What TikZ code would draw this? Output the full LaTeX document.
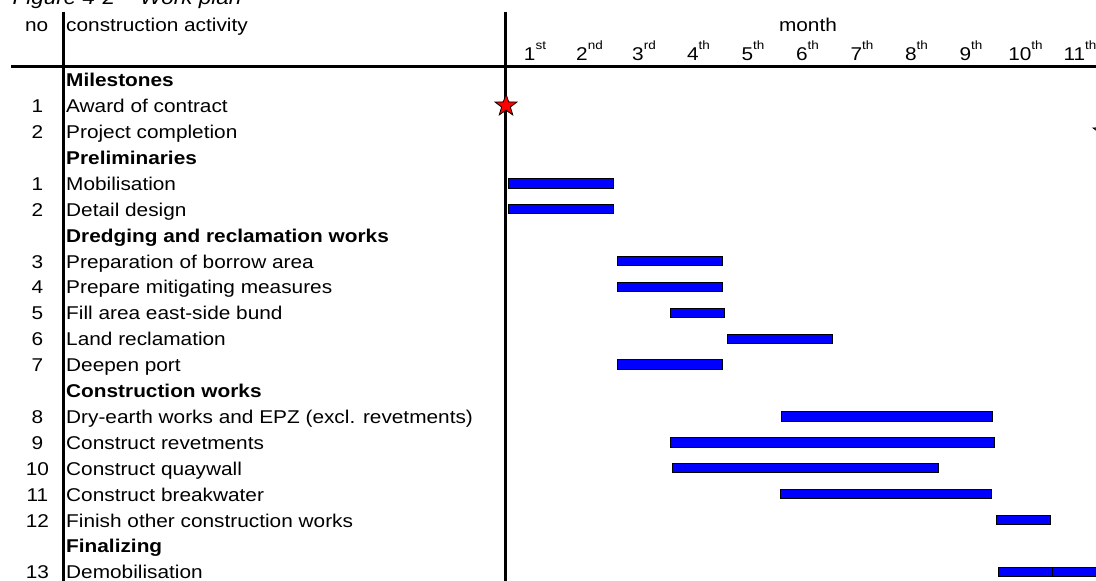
\documentclass[tikz,border=0pt]{standalone}
\usepackage{fontspec}
\setmainfont{Liberation Sans}[FakeStretch=1.125]
\usetikzlibrary{shapes.geometric}
\pgfdeclarelayer{bg}
\pgfsetlayers{bg,main}
\tikzset{
    every node/.style={inner sep=0mm, font=\fontsize{18.5}{22}\selectfont},
    nr/.style={anchor=base},
    act/.style={anchor=base west},
    grp/.style={anchor=base west, font=\fontsize{18.5}{22}\selectfont\bfseries},
    mon/.style={anchor=base},
    bar/.style={draw=black, fill=blue, line width=1pt},
    rule/.style={line width=2.7pt},
    mstone/.style={star, star points=5, star point ratio=2.5, draw=black, fill=red, minimum size=23pt, line width=0.8pt}
}
\newcommand{\ordsup}[2]{#1\raisebox{11pt}{\fontsize{12}{12}\selectfont #2}}

\begin{document}
\begin{tikzpicture}[x=1pt, y=-1pt]
        \useasboundingbox (0,0) rectangle (1096,581);
        \clip (0,0) rectangle (1096,581);
        \node (title) [anchor=base west, font=\fontsize{20}{24}\selectfont\itshape] at (12.5, 4) {Figure 4-2 -- Work plan};
        % header
        \node (hno) [nr] at (36.7, 31.7) {no};
        \node (hact) [act] at (66, 31.7) {construction activity};
        \node (hmonth) [mon] at (808, 31.7) {month};
        \node (m1) [mon] at (535, 60) {\ordsup{1}{st}};
        \node (m2) [mon] at (589.5, 60) {\ordsup{2}{nd}};
        \node (m3) [mon] at (644, 60) {\ordsup{3}{rd}};
        \node (m4) [mon] at (698.5, 60) {\ordsup{4}{th}};
        \node (m5) [mon] at (753, 60) {\ordsup{5}{th}};
        \node (m6) [mon] at (807.5, 60) {\ordsup{6}{th}};
        \node (m7) [mon] at (862, 60) {\ordsup{7}{th}};
        \node (m8) [mon] at (916.5, 60) {\ordsup{8}{th}};
        \node (m9) [mon] at (971, 60) {\ordsup{9}{th}};
        \node (m10) [mon] at (1025.5, 60) {\ordsup{10}{th}};
        \node (m11) [mon] at (1080, 60) {\ordsup{11}{th}};
        % activities
        \node (g0) [grp] at (66, 86.7) {Milestones};
        \node (n1) [nr] at (37.5, 112.6) {1};
        \node (a1) [act] at (66, 112.6) {Award of contract};
        \node (n2) [nr] at (37.5, 138.5) {2};
        \node (a2) [act] at (66, 138.5) {Project completion};
        \node (g1) [grp] at (66, 164.4) {Preliminaries};
        \node (n3) [nr] at (37.5, 190.3) {1};
        \node (a3) [act] at (66, 190.3) {Mobilisation};
        \node (n4) [nr] at (37.5, 216.2) {2};
        \node (a4) [act] at (66, 216.2) {Detail design};
        \node (g2) [grp] at (66, 242.1) {Dredging and reclamation works};
        \node (n5) [nr] at (37.5, 268.0) {3};
        \node (a5) [act] at (66, 268.0) {Preparation of borrow area};
        \node (n6) [nr] at (37.5, 293.9) {4};
        \node (a6) [act] at (66, 293.9) {Prepare mitigating measures};
        \node (n7) [nr] at (37.5, 319.8) {5};
        \node (a7) [act] at (66, 319.8) {Fill area east-side bund};
        \node (n8) [nr] at (37.5, 345.7) {6};
        \node (a8) [act] at (66, 345.7) {Land reclamation};
        \node (n9) [nr] at (37.5, 371.6) {7};
        \node (a9) [act] at (66, 371.6) {Deepen port};
        \node (g3) [grp] at (66, 397.5) {Construction works};
        \node (n10) [nr] at (37.5, 423.4) {8};
        \node (a10) [act] at (66, 423.4) {Dry-earth works and EPZ (excl. revetments)};
        \node (n11) [nr] at (37.5, 449.3) {9};
        \node (a11) [act] at (66, 449.3) {Construct revetments};
        \node (n12) [nr] at (37.5, 475.2) {10};
        \node (a12) [act] at (66, 475.2) {Construct quaywall};
        \node (n13) [nr] at (37.5, 501.1) {11};
        \node (a13) [act] at (66, 501.1) {Construct breakwater};
        \node (n14) [nr] at (37.5, 527.0) {12};
        \node (a14) [act] at (66, 527.0) {Finish other construction works};
        \node (g4) [grp] at (66, 552.9) {Finalizing};
        \node (n15) [nr] at (37.5, 578.8) {13};
        \node (a15) [act] at (66, 578.8) {Demobilisation};
        % milestones
        \node (s1) [mstone] at (506, 105.6) {};
        \node (s2) [mstone] at (1104, 131.5) {};
        % bars
        \draw[bar] (508.3, 178.6) rectangle (613.3, 188.0);
        \draw[bar] (508.3, 204.5) rectangle (613.3, 213.9);
        \draw[bar] (617.7, 256.3) rectangle (722.7, 265.7);
        \draw[bar] (617.7, 282.2) rectangle (722.7, 291.6);
        \draw[bar] (670.7, 308.1) rectangle (724.7, 317.5);
        \draw[bar] (727.0, 334.0) rectangle (832.0, 343.4);
        \draw[bar] (617.7, 359.9) rectangle (722.7, 369.3);
        \draw[bar] (781.7, 411.7) rectangle (992.7, 421.1);
        \draw[bar] (670.7, 437.6) rectangle (994.3, 447.0);
        \draw[bar] (672.3, 463.5) rectangle (938.0, 472.9);
        \draw[bar] (780.0, 489.4) rectangle (991.3, 498.8);
        \draw[bar] (996.7, 515.3) rectangle (1050.3, 524.7);
        \draw[bar] (998.7, 567.1) rectangle (1052.0, 576.5);
        \draw[bar] (1052.7, 567.1) rectangle (1110.0, 576.5);
        % table rules
        \coordinate (hl) at (11, 66.7);
        \coordinate (hr) at (1096, 66.7);
        \coordinate (t1) at (63.3, 11.7);
        \coordinate (b1) at (63.3, 581);
        \coordinate (t2) at (505.7, 11.7);
        \coordinate (b2) at (505.7, 581);
        \begin{pgfonlayer}{bg}
                \draw[rule] (hl) -- (hr);
                \draw[rule] (t1) -- (b1);
                \draw[rule] (t2) -- (b2);
        \end{pgfonlayer}
\end{tikzpicture}
\end{document}
